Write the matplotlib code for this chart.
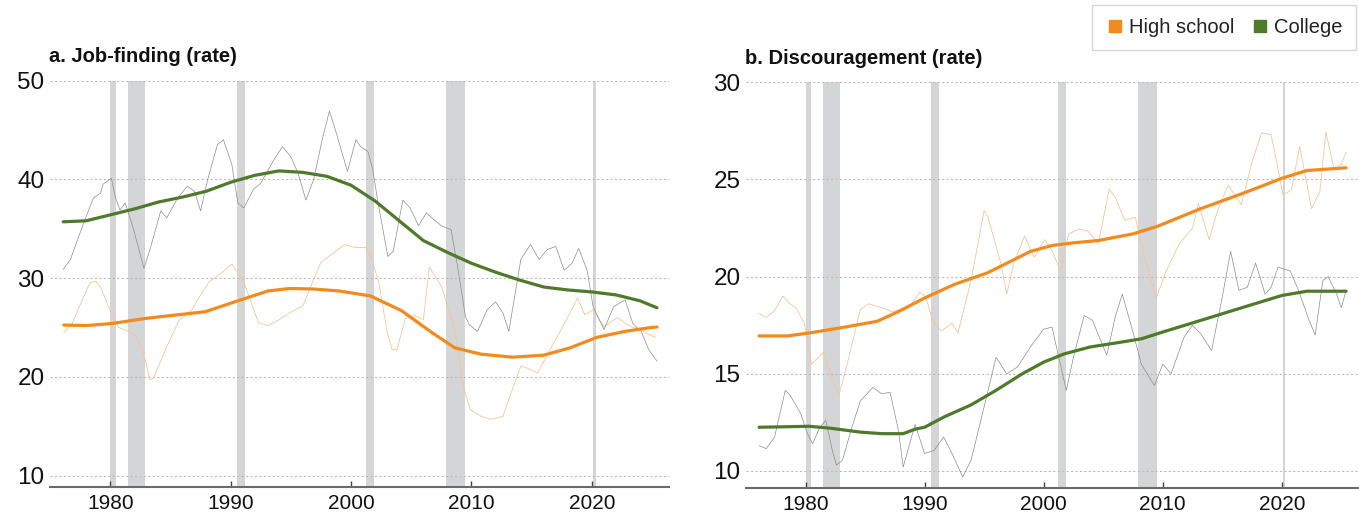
import matplotlib
matplotlib.use('Agg')
import matplotlib.pyplot as plt
from matplotlib.lines import Line2D

plt.rcParams['font.family'] = ['Liberation Sans', 'DejaVu Sans']

# ---------------- data ----------------
recessions = [(1980.0, 1980.5), (1981.5, 1982.9), (1990.5, 1991.2),
              (2001.2, 2001.9), (2007.9, 2009.5), (2020.1, 2020.3)]

# Panel a: job-finding
jf_col_trend_x = [1976.1, 1978, 1980, 1982, 1984, 1986, 1988, 1990, 1992, 1994, 1996, 1998,
                  2000, 2002, 2004, 2006, 2008, 2010, 2012, 2014, 2016, 2018, 2020, 2022, 2024, 2025.4]
jf_col_trend = [35.7, 35.8, 36.4, 37.0, 37.7, 38.2, 38.8, 39.7, 40.4, 40.85, 40.7, 40.3,
                39.4, 37.8, 35.8, 33.8, 32.6, 31.5, 30.6, 29.8, 29.1, 28.8, 28.6, 28.3, 27.7, 27.0]

jf_hs_trend_x = [1976.15, 1978, 1980.1, 1983.1, 1985.7, 1987.9, 1990.1, 1993.1, 1994.9, 1996.8,
                 1999.0, 2001.6, 2004.2, 2006.7, 2008.6, 2010.8, 2013.4, 2016.0, 2018.2, 2020.4,
                 2022.7, 2024.9, 2025.4]
jf_hs_trend = [25.25, 25.2, 25.4, 25.95, 26.3, 26.6, 27.5, 28.7, 28.95, 28.9,
               28.7, 28.2, 26.7, 24.5, 22.95, 22.3, 22.0, 22.2, 22.95, 24.0,
               24.6, 25.0, 25.05]

jf_col_raw_x = [1976.1, 1976.7, 1977.8, 1978.6, 1979.2, 1979.4, 1980.1, 1980.4, 1980.8, 1981.25,
                1981.9, 1982.8, 1983.3, 1984.2, 1984.7, 1985.6, 1986.4, 1987.0, 1987.5, 1988.1,
                1988.9, 1989.4, 1990.1, 1990.6, 1991.1, 1991.9, 1992.5, 1993.6, 1994.3, 1995.0,
                1995.6, 1996.25, 1996.9, 1997.6, 1998.2, 1998.6, 1999.7, 2000.4, 2000.8, 2001.4,
                2001.8, 2002.2, 2003.05, 2003.5, 2004.3, 2004.9, 2005.6, 2006.25, 2006.9, 2007.5,
                2008.3, 2008.8, 2009.5, 2009.8, 2010.5, 2011.3, 2012.0, 2012.6, 2013.1, 2014.1,
                2014.9, 2015.6, 2016.3, 2017.0, 2017.7, 2018.35, 2018.9, 2019.6, 2020.1, 2021.0,
                2021.8, 2022.75, 2023.4, 2024.1, 2024.7, 2025.4]
jf_col_raw = [30.9, 31.9, 35.6, 38.1, 38.6, 39.5, 40.1, 38.3, 36.9, 37.6,
              35.1, 31.0, 32.9, 36.8, 36.1, 38.1, 39.3, 38.8, 36.8, 40.0,
              43.5, 44.0, 41.5, 37.6, 37.1, 39.0, 39.6, 42.0, 43.3, 42.3,
              40.6, 37.9, 40.0, 44.0, 46.9, 45.4, 40.8, 44.0, 43.3, 42.8,
              41.0, 37.9, 32.2, 32.7, 37.9, 37.1, 35.3, 36.6, 35.9, 35.3,
              34.9, 31.5, 26.1, 25.3, 24.6, 26.8, 27.6, 26.5, 24.6, 31.9,
              33.4, 31.9, 32.9, 33.2, 30.8, 31.5, 33.0, 30.8, 27.1, 24.8,
              27.1, 27.8, 25.4, 24.6, 22.8, 21.6]

jf_hs_raw_x = [1976.15, 1976.8, 1977.4, 1978.3, 1978.8, 1979.2, 1979.9, 1980.7, 1981.6, 1982.1,
               1982.7, 1983.3, 1983.6, 1984.6, 1985.7, 1986.8, 1987.1, 1988.2, 1989.0, 1990.1,
               1991.0, 1991.6, 1992.3, 1993.1, 1993.8, 1994.9, 1996.0, 1996.8, 1997.5, 1998.7,
               1999.5, 2000.3, 2001.2, 2001.6, 2002.3, 2003.0, 2003.4, 2003.8, 2004.5, 2005.3,
               2006.0, 2006.5, 2007.5, 2008.6, 2009.4, 2009.9, 2010.8, 2011.6, 2012.6, 2013.0,
               2014.1, 2014.6, 2015.5, 2016.8, 2017.9, 2018.8, 2019.4, 2020.1, 2021.0, 2022.1,
               2023.2, 2024.0, 2024.9, 2025.3]
jf_hs_raw = [24.5, 25.3, 27.0, 29.5, 29.7, 29.1, 27.0, 25.0, 24.6, 24.1,
             22.8, 19.7, 19.9, 22.8, 25.7, 26.8, 27.5, 29.6, 30.3, 31.4,
             29.9, 27.9, 25.5, 25.2, 25.6, 26.5, 27.2, 29.6, 31.6, 32.7,
             33.4, 33.1, 33.1, 32.3, 29.6, 24.5, 22.8, 22.7, 25.9, 26.2,
             25.8, 31.1, 29.2, 24.8, 18.7, 16.7, 16.0, 15.7, 16.0, 17.4,
             21.1, 20.9, 20.4, 23.4, 25.8, 28.0, 26.3, 26.8, 25.1, 26.0,
             25.1, 24.8, 24.2, 24.0]

# Panel b: discouragement
dc_hs_trend_x = [1976.1, 1978.5, 1980.3, 1982.8, 1986.0, 1987.8, 1990.0, 1992.5, 1995.3, 1998.9,
                 2000.7, 2002.5, 2004.6, 2007.5, 2009.6, 2013.2, 2016.8, 2020.0, 2022.1, 2025.4]
dc_hs_trend = [16.95, 16.95, 17.1, 17.35, 17.7, 18.2, 18.9, 19.6, 20.2, 21.3,
               21.6, 21.74, 21.86, 22.2, 22.6, 23.5, 24.3, 25.06, 25.46, 25.6]

dc_col_trend_x = [1976.1, 1980.3, 1982.1, 1984.6, 1986.4, 1988.2, 1989.2, 1990.0, 1991.7, 1993.9,
                  1996.0, 1998.2, 2000.0, 2001.75, 2003.9, 2006.0, 2008.2, 2010.0, 2013.2, 2016.8,
                  2020.0, 2022.1, 2025.4]
dc_col_trend = [12.25, 12.3, 12.2, 12.0, 11.92, 11.92, 12.15, 12.25, 12.8, 13.4,
                14.15, 15.0, 15.6, 16.03, 16.38, 16.58, 16.8, 17.15, 17.75, 18.43,
                19.03, 19.25, 19.25]

dc_hs_raw_x = [1976.1, 1976.7, 1977.4, 1978.1, 1978.7, 1979.2, 1979.9, 1980.5, 1981.0, 1981.5,
               1982.25, 1982.8, 1983.5, 1984.6, 1985.3, 1986.4, 1987.3, 1988.2, 1988.9, 1989.6,
               1990.1, 1990.7, 1991.4, 1992.3, 1992.8, 1993.9, 1995.0, 1995.3, 1996.4, 1996.9,
               1997.5, 1998.4, 1999.2, 2000.1, 2000.7, 2001.4, 2002.1, 2003.0, 2003.7, 2004.6,
               2005.5, 2006.0, 2006.8, 2007.7, 2008.55, 2009.45, 2010.3, 2011.4, 2012.5, 2013.0,
               2013.9, 2014.6, 2015.5, 2016.6, 2017.5, 2018.3, 2019.1, 2019.7, 2020.1, 2020.8,
               2021.5, 2022.5, 2023.2, 2023.7, 2024.4, 2025.0, 2025.4]
dc_hs_raw = [18.1, 17.9, 18.25, 19.0, 18.6, 18.4, 17.6, 15.5, 15.8, 16.1,
             14.7, 13.9, 15.5, 18.3, 18.6, 18.4, 18.2, 18.35, 18.6, 19.2,
             18.95, 17.7, 17.2, 17.6, 17.1, 19.8, 23.4, 23.1, 20.7, 19.1,
             20.7, 22.1, 21.0, 21.9, 21.35, 20.3, 22.2, 22.45, 22.35, 21.7,
             24.5, 24.1, 22.9, 23.05, 20.8, 18.9, 20.3, 21.7, 22.5, 23.75,
             21.9, 23.4, 24.7, 23.7, 25.9, 27.4, 27.3, 25.5, 24.2, 24.45,
             26.7, 23.5, 24.4, 27.45, 25.5, 25.8, 26.4]

dc_col_raw_x = [1976.1, 1976.7, 1977.4, 1978.3, 1978.7, 1979.6, 1980.1, 1980.6, 1981.2, 1981.7,
                1982.25, 1982.6, 1983.1, 1983.9, 1984.6, 1985.65, 1986.4, 1987.1, 1987.8, 1988.2,
                1989.2, 1990.0, 1990.8, 1991.6, 1992.3, 1993.2, 1993.9, 1995.0, 1996.0, 1996.9,
                1997.8, 1998.9, 2000.0, 2000.7, 2001.4, 2001.9, 2002.5, 2003.4, 2004.1, 2005.3,
                2006.0, 2006.6, 2007.5, 2008.2, 2009.3, 2010.0, 2010.7, 2011.8, 2012.5, 2013.2,
                2014.1, 2015.0, 2015.7, 2016.4, 2017.1, 2017.8, 2018.6, 2019.1, 2019.7, 2020.1,
                2020.7, 2021.4, 2022.2, 2022.8, 2023.45, 2023.9, 2024.6, 2025.0, 2025.4]
dc_col_raw = [11.3, 11.15, 11.75, 14.15, 13.9, 12.95, 12.0, 11.4, 12.26, 12.6,
              11.06, 10.3, 10.55, 12.26, 13.6, 14.3, 13.97, 14.05, 12.1, 10.2,
              12.4, 10.9, 11.06, 11.75, 10.9, 9.7, 10.55, 13.3, 15.85, 15.0,
              15.35, 16.4, 17.3, 17.4, 15.5, 14.15, 15.85, 18.0, 17.75, 15.95,
              17.9, 19.1, 17.15, 15.5, 14.4, 15.5, 15.0, 16.9, 17.5, 17.05,
              16.2, 18.95, 21.3, 19.3, 19.45, 20.7, 19.1, 19.45, 20.5, 20.4,
              20.3, 19.3, 17.9, 17.0, 19.8, 20.0, 19.1, 18.4, 19.3]

xticks = [1980, 1990, 2000, 2010, 2020]
yticks_a = [10, 20, 30, 40, 50]
yticks_b = [10, 15, 20, 25, 30]
titles = ['a. Job-finding (rate)', 'b. Discouragement (rate)']
labels = ['High school', 'College']

# ---------------- style ----------------
ORANGE = '#F28A1D'
GREEN = '#4F7A2B'
ORANGE_THIN = '#F8C495'
GREEN_THIN = '#8A8E86'
SHADE = '#D4D5D7'

W, H = 1359, 516
fig = plt.figure(figsize=(W / 100, H / 100), dpi=100)
ax1 = fig.add_axes([50 / W, 1 - 487 / H, 619 / W, (487 - 80.5) / H])
ax2 = fig.add_axes([746 / W, 1 - 487.7 / H, 612 / W, (487.7 - 82.3) / H])


def style(ax, yticks, ylim, title):
    for a, b in recessions:
        ax.axvspan(a, b, color=SHADE, lw=0, zorder=1)
    ax.set_xlim(1975.0, 2026.4)
    ax.set_ylim(*ylim)
    ax.set_yticks(yticks)
    ax.set_xticks(xticks)
    ax.grid(axis='y', linestyle=(0, (2, 2)), color='#BDBDBD', lw=0.8, zorder=1.5)
    ax.grid(axis='x', visible=False)
    for s in ['top', 'right', 'left']:
        ax.spines[s].set_visible(False)
    ax.spines['bottom'].set_color('#6A6A6A')
    ax.spines['bottom'].set_linewidth(1.5)
    ax.tick_params(axis='y', length=0, pad=4, labelsize=17.5, labelcolor='#111111')
    ax.tick_params(axis='x', direction='in', length=4, width=1, color='#444444',
                   pad=5, labelsize=15, labelcolor='#111111')
    ax.text(-0.002, 1.045, title, transform=ax.transAxes, fontsize=14.5,
            fontweight='bold', ha='left', va='baseline', color='#111111')


style(ax1, yticks_a, (8.86, 50), titles[0])
style(ax2, yticks_b, (9.14, 30), titles[1])

ax1.plot(jf_hs_raw_x, jf_hs_raw, color=ORANGE_THIN, lw=0.6, zorder=2)
ax1.plot(jf_col_raw_x, jf_col_raw, color=GREEN_THIN, lw=0.5, zorder=2)
ax1.plot(jf_hs_trend_x, jf_hs_trend, color=ORANGE, lw=2.3, zorder=3, solid_capstyle='round')
ax1.plot(jf_col_trend_x, jf_col_trend, color=GREEN, lw=2.3, zorder=3, solid_capstyle='round')

ax2.plot(dc_hs_raw_x, dc_hs_raw, color=ORANGE_THIN, lw=0.6, zorder=2)
ax2.plot(dc_col_raw_x, dc_col_raw, color=GREEN_THIN, lw=0.5, zorder=2)
ax2.plot(dc_hs_trend_x, dc_hs_trend, color=ORANGE, lw=2.3, zorder=3, solid_capstyle='round')
ax2.plot(dc_col_trend_x, dc_col_trend, color=GREEN, lw=2.3, zorder=3, solid_capstyle='round')

handles = [Line2D([], [], marker='s', ls='', color=ORANGE, markersize=8),
           Line2D([], [], marker='s', ls='', color=GREEN, markersize=8)]
leg = fig.legend(handles, labels, loc='upper right', bbox_to_anchor=(1356 / W, 1 - 5 / H),
                 ncol=2, frameon=True, fancybox=False, edgecolor='#CCCCCC', fontsize=14.5,
                 handletextpad=0.2, columnspacing=0.8, borderpad=0.65, handlelength=1.0,
                 borderaxespad=0)
leg.get_frame().set_linewidth(1.0)
for t in leg.get_texts():
    t.set_color('#222222')

fig.savefig('out.png', dpi=100)
